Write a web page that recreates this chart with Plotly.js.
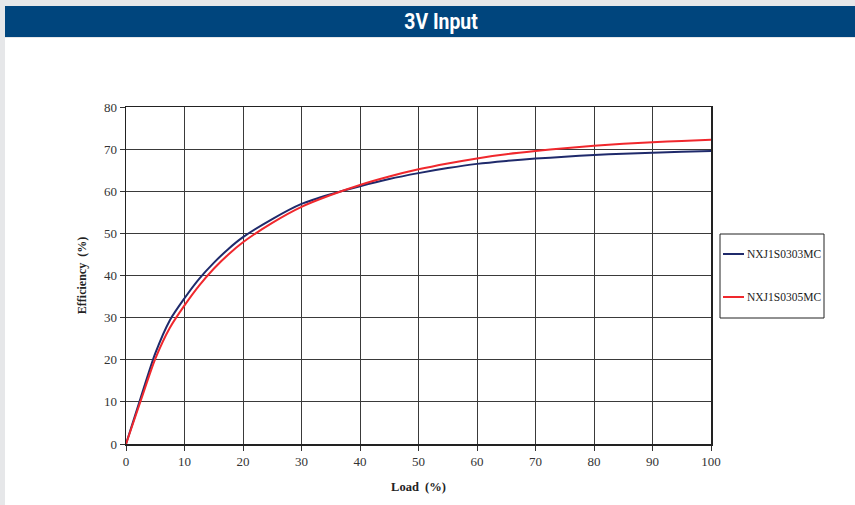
<!DOCTYPE html>
<html>
<head>
<meta charset="utf-8">
<script src="https://cdn.plot.ly/plotly-3.0.1.min.js"></script>
<style>
html,body{margin:0;padding:0;background:#e6e7e9;}
#wrap{position:relative;width:855px;height:505px;}
#chart{width:855px;height:505px;}
#title{position:absolute;left:341px;top:6px;width:200px;height:31px;line-height:31px;
  text-align:center;color:#fff;font-family:Roboto,"Liberation Sans",sans-serif;font-weight:bold;
  font-size:22px;transform:scaleX(0.88);transform-origin:50% 50%;white-space:nowrap;}
</style>
</head>
<body>
<div id="wrap">
<div id="chart"></div>
<div id="title"></div>
</div>
<script>
// Data
var loadPct = [0, 2.5, 5, 7.5, 10, 12.5, 15, 17.5, 20, 25, 30, 35, 40, 45, 50, 55, 60, 65, 70, 75, 80, 85, 90, 95, 100];
var eff0303 = [0, 10.9, 21.5, 29.4, 34.6, 39.2, 43.0, 46.3, 49.1, 53.4, 57.0, 59.3, 61.2, 62.9, 64.3, 65.5, 66.5, 67.2, 67.75, 68.2, 68.6, 68.9, 69.15, 69.4, 69.55];
var eff0305 = [0, 10.2, 20.2, 27.6, 32.9, 37.6, 41.6, 45.0, 47.9, 52.5, 56.3, 59.1, 61.5, 63.5, 65.2, 66.6, 67.8, 68.8, 69.55, 70.2, 70.8, 71.25, 71.65, 71.95, 72.2];
var seriesNames = ["NXJ1S0303MC", "NXJ1S0305MC"];
var seriesColors = ["#1f2a6b", "#f0282d"];
var chartTitle = "3V Input";
var xTicks = [0, 10, 20, 30, 40, 50, 60, 70, 80, 90, 100];
var yTicks = [0, 10, 20, 30, 40, 50, 60, 70, 80];

document.getElementById("title").textContent = chartTitle;

var serif = "Liberation Serif, Times New Roman, serif";
// plot area geometry helpers (pixels -> paper)
var L = 126, T = 107, W = 585, H = 337;
function px(x) { return (x - L) / W; }
function py(y) { return (T + H - y) / H; }

var traces = [
  {x: loadPct, y: eff0303, name: seriesNames[0], mode: "lines", type: "scatter",
   line: {color: seriesColors[0], width: 2, shape: "spline", smoothing: 0.7}},
  {x: loadPct, y: eff0305, name: seriesNames[1], mode: "lines", type: "scatter",
   line: {color: seriesColors[1], width: 2, shape: "spline", smoothing: 0.7}}
];

var shapes = [
  {type: "rect", xref: "paper", yref: "paper", layer: "below",
   x0: px(5), x1: px(855), y0: py(505), y1: py(38),
   fillcolor: "#ffffff", line: {width: 0}},
  {type: "rect", xref: "paper", yref: "paper", layer: "below",
   x0: px(5), x1: px(855), y0: py(37), y1: py(6),
   fillcolor: "#00457d", line: {width: 0}},
  // legend box
  {type: "rect", xref: "paper", yref: "paper",
   x0: px(720), x1: px(824), y0: py(318), y1: py(234),
   fillcolor: "#ffffff", line: {color: "#222", width: 1}}
];
var annotations = [];
var legendRows = [254, 297];
for (var i = 0; i < seriesNames.length; i++) {
  shapes.push({type: "line", xref: "paper", yref: "paper",
    x0: px(723), x1: px(744), y0: py(legendRows[i]), y1: py(legendRows[i]),
    line: {color: seriesColors[i], width: 2}});
  annotations.push({text: seriesNames[i], xref: "paper", yref: "paper",
    x: px(745), y: py(legendRows[i]), xanchor: "left", yanchor: "middle",
    showarrow: false, font: {family: serif, size: 11.5, color: "#222"}});
}

var layout = {
  width: 855, height: 505,
  paper_bgcolor: "#e6e7e9",
  plot_bgcolor: "#ffffff",
  margin: {l: L, r: 855 - L - W, t: T, b: 505 - T - H},
  showlegend: false,
  xaxis: {
    range: [0, 100], tickvals: xTicks, ticktext: xTicks.map(String),
    ticks: "outside", ticklen: 5, tickcolor: "#333", tickwidth: 1,
    showgrid: true, gridcolor: "#3a3a3a", gridwidth: 1,
    showline: true, linecolor: "#222", linewidth: 1.5, mirror: true,
    zeroline: false,
    tickfont: {family: serif, size: 13, color: "#333"},
    title: {text: "<b>Load  (%)</b>", font: {family: serif, size: 12.5, color: "#222"}, standoff: 14}
  },
  yaxis: {
    range: [0, 80], tickvals: yTicks, ticktext: yTicks.map(String),
    ticks: "outside", ticklen: 5, tickcolor: "#333", tickwidth: 1,
    showgrid: true, gridcolor: "#3a3a3a", gridwidth: 1,
    showline: true, linecolor: "#222", linewidth: 1.5, mirror: true,
    zeroline: false,
    tickfont: {family: serif, size: 13, color: "#333"},
    title: {text: "<b>Efficiency  (%)</b>", font: {family: serif, size: 12, color: "#222"}, standoff: 14}
  },
  shapes: shapes,
  annotations: annotations
};

Plotly.newPlot("chart", traces, layout, {displayModeBar: false, staticPlot: true});
</script>
</body>
</html>
